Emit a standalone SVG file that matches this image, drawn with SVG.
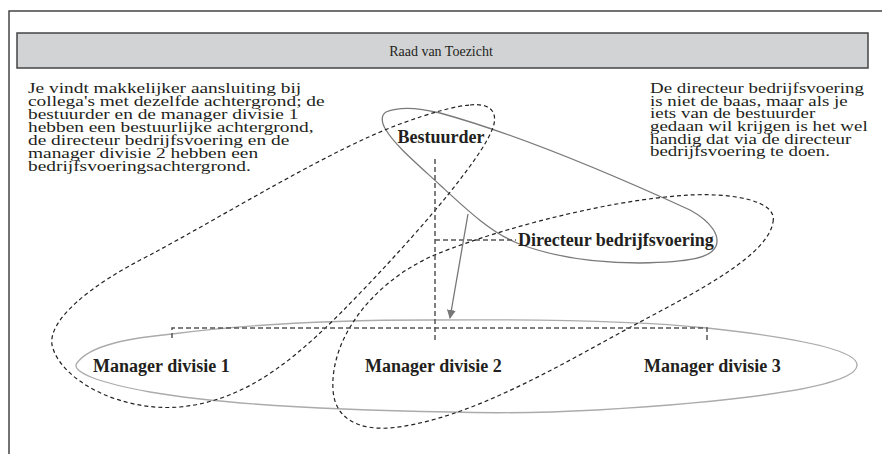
<svg xmlns="http://www.w3.org/2000/svg" width="882" height="454" viewBox="0 0 882 454">
  <style>
    .frame { fill: none; stroke: #444; stroke-width: 1.5; }
    .header { fill: #d2d3d5; stroke: #444; stroke-width: 1.5; }
    .note { font-family: "Liberation Serif", serif; font-size: 15.5px; fill: #231f20; }
    .title { font-family: "Liberation Serif", serif; font-size: 14px; fill: #231f20; }
    .label { font-family: "Liberation Serif", serif; font-size: 18px; font-weight: bold; fill: #231f20; }
    .group-solid { fill: none; stroke: #7a7a7a; stroke-width: 1.3; }
    .group-light { fill: none; stroke: #ababab; stroke-width: 1.3; }
    .group-dash { fill: none; stroke: #222; stroke-width: 1.2; stroke-dasharray: 4 3; }
    .org { fill: none; stroke: #555; stroke-width: 1.5; stroke-dasharray: 5 3; }
    .influence { fill: none; stroke: #777; stroke-width: 1.3; }
  </style>
  <defs>
    <marker id="arrow" viewBox="0 0 10 10" refX="9" refY="5" markerWidth="9" markerHeight="9" markerUnits="userSpaceOnUse" orient="auto">
      <path d="M0,0 L10,5 L0,10 Z" fill="#777"/>
    </marker>
  </defs>

  <!-- page frame -->
  <path class="frame" d="M9,454 L9,11 L882,11"/>

  <!-- supervisory board bar -->
  <g id="raad">
    <rect class="header" x="17" y="33" width="851" height="35"/>
    <text class="title" x="441" y="56" text-anchor="middle">Raad van Toezicht</text>
  </g>

  <!-- explanatory notes (set wide, like the book face) -->
  <g id="note-left">
    <text class="note" transform="translate(28,0) scale(1.25,1)">
      <tspan x="0" y="93">Je vindt makkelijker aansluiting bij</tspan>
      <tspan x="0" y="106">collega's met dezelfde achtergrond; de</tspan>
      <tspan x="0" y="119">bestuurder en de manager divisie 1</tspan>
      <tspan x="0" y="132">hebben een bestuurlijke achtergrond,</tspan>
      <tspan x="0" y="145">de directeur bedrijfsvoering en de</tspan>
      <tspan x="0" y="158">manager divisie 2 hebben een</tspan>
      <tspan x="0" y="171">bedrijfsvoeringsachtergrond.</tspan>
    </text>
  </g>
  <g id="note-right">
    <text class="note" transform="translate(650,0) scale(1.22,1)">
      <tspan x="0" y="93">De directeur bedrijfsvoering</tspan>
      <tspan x="0" y="106">is niet de baas, maar als je</tspan>
      <tspan x="0" y="118">iets van de bestuurder</tspan>
      <tspan x="0" y="131">gedaan wil krijgen is het wel</tspan>
      <tspan x="0" y="144">handig dat via de directeur</tspan>
      <tspan x="0" y="156">bedrijfsvoering te doen.</tspan>
    </text>
  </g>

  <!-- groupings and org lines -->
  <g id="connectors">
    <!-- managers group -->
    <path class="group-light" d="M77,363 C90,345 130,338 172,334 C240,325 330,320 430,320 C550,319 650,322 707,328 C780,336 857,348 857,365 C857,385 760,400 597,410 C540,413 480,413 450,412 C320,410 220,404 150,392 C100,383 70,372 77,363 Z"/>
    <!-- executive pair -->
    <path class="group-solid" d="M386,112 C400,106 420,108 440,113 C520,135 620,178 690,210 C712,222 720,236 716,246 C711,258 690,262 640,263 C590,263 550,256 517,243 C490,232 465,208 440,185 C415,162 395,145 386,130 C381,122 381,115 386,112 Z"/>
    <!-- administrative background -->
    <path class="group-dash" d="M470,105 C488,103 497,110 494,124 C488,150 430,220 363,290 C300,356 250,400 180,407 C120,412 60,380 52,345 C48,320 90,285 150,255 C230,212 330,150 400,124 C430,113 455,106 470,105 Z"/>
    <!-- operations background -->
    <path class="group-dash" d="M773,222 C778,200 730,193 690,195 C600,200 480,235 430,257 C370,285 330,340 333,390 C335,420 360,430 390,428 C470,420 560,365 640,322 C700,290 768,255 773,222 Z"/>
    <!-- reporting lines -->
    <path class="org" d="M435,159 L435,341"/>
    <path class="org" d="M435,240 L516,240"/>
    <path class="org" d="M172,338 L172,328 L707,328 L707,343"/>
    <!-- informal route -->
    <path class="influence" d="M468,214 L450,318" marker-end="url(#arrow)"/>
  </g>

  <!-- people -->
  <g id="bestuurder"><text class="label" x="441" y="143" text-anchor="middle">Bestuurder</text></g>
  <g id="directeur"><text class="label" x="518" y="246">Directeur bedrijfsvoering</text></g>
  <g id="manager1"><text class="label" x="93" y="372">Manager divisie 1</text></g>
  <g id="manager2"><text class="label" x="365" y="372">Manager divisie 2</text></g>
  <g id="manager3"><text class="label" x="644" y="372">Manager divisie 3</text></g>
</svg>
